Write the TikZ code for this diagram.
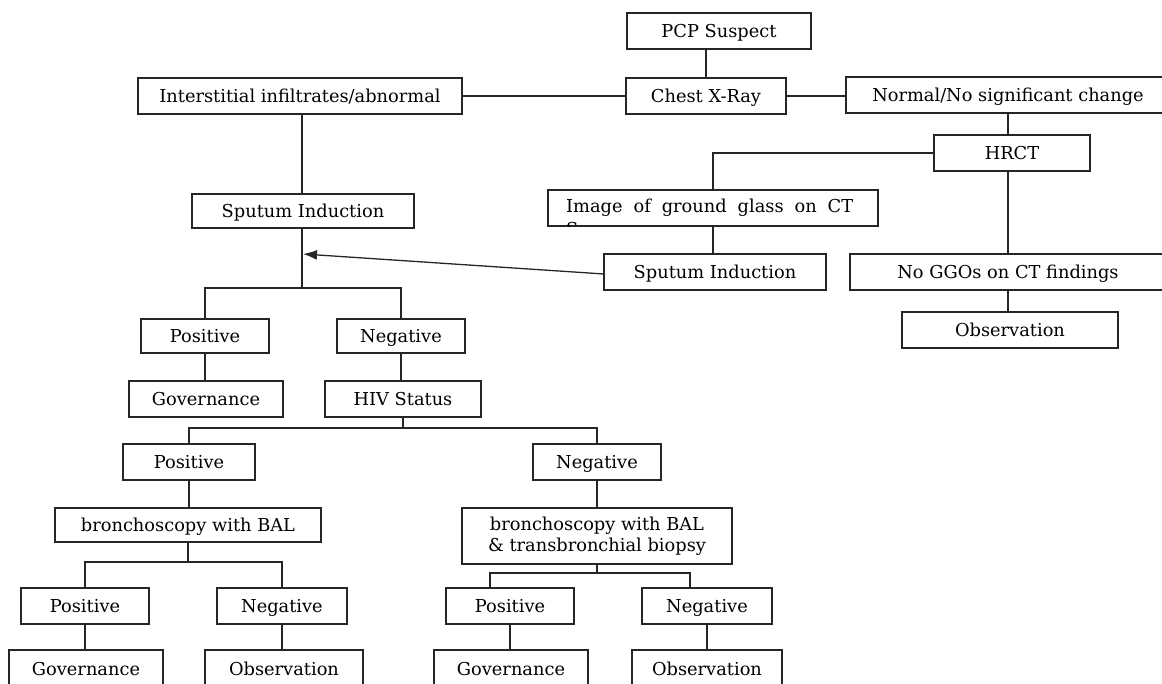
\documentclass[tikz,border=0pt]{standalone}
\usepackage{fontspec}
\setmainfont{DejaVu Serif}
\usetikzlibrary{arrows.meta}
\newcommand\mybox[6]{\node[bx,minimum width={#3-#2},minimum height={#5-#4}] (#1) at ({(#2+#3)/2},{(#4+#5)/2}) {#6};}
\begin{document}
\begin{tikzpicture}[x=1pt,y=-1pt,
  bxbase/.style={draw=black!85,line width=1.5pt,inner sep=0pt,outer sep=0pt,align=center,font=\fontsize{17.8}{21}\selectfont},
  bx/.style={bxbase,text height=14.5pt,text depth=1.5pt},
  bxtwo/.style={bxbase},
  ln/.style={draw=black!85,line width=1.5pt},
  arr/.style={draw=black!85,line width=1.3pt,-{Latex[length=14pt,width=10pt]}}]
\useasboundingbox (0,0) rectangle (1162,683);
% top
\mybox{pcp}{627}{811}{13}{49}{PCP Suspect}
\mybox{chest}{626}{786}{78}{114}{Chest X-Ray}
\mybox{inter}{138}{462}{78}{114}{Interstitial infiltrates/abnormal}
\mybox{normal}{846}{1170}{77}{113}{Normal/No significant change}
\mybox{hrct}{934}{1090}{135}{171}{HRCT}
\node[draw=black!85,line width=1.5pt,minimum width=330,minimum height=36,inner sep=0pt,outer sep=0pt] (image) at (713,208) {};
\begin{scope}
\clip (548,190) rectangle (878,226);
\node[anchor=base west,inner sep=0pt,font=\fontsize{17.8}{21}\selectfont] (imgtxt) at (566,212) {\makebox[287pt][s]{Image of ground glass on CT}};
\node[anchor=base west,inner sep=0pt,font=\fontsize{17.8}{21}\selectfont] (imgtxtb) at (566,235) {S};
\end{scope}
\mybox{sputr}{604}{826}{254}{290}{Sputum Induction}
\mybox{noggo}{850}{1166}{254}{290}{No GGOs on CT findings}
\mybox{obsr}{902}{1118}{312}{348}{Observation}
\mybox{sputl}{192}{414}{194}{228}{Sputum Induction}
% middle
\mybox{pos1}{141}{269}{319}{353}{Positive}
\mybox{neg1}{337}{465}{319}{353}{Negative}
\mybox{gov1}{129}{283}{381}{417}{Governance}
\mybox{hiv}{325}{481}{381}{417}{HIV Status}
\mybox{pos2}{123}{255}{444}{480}{Positive}
\mybox{neg2}{533}{661}{444}{480}{Negative}
\mybox{bal1}{55}{321}{508}{542}{bronchoscopy with BAL}
\node[bxtwo,minimum width=270,minimum height=56] (bal2) at (597,536) {bronchoscopy with BAL\\\& transbronchial biopsy};
% bottom
\mybox{pos3}{21}{149}{588}{624}{Positive}
\mybox{neg3}{217}{347}{588}{624}{Negative}
\mybox{pos4}{446}{574}{588}{624}{Positive}
\mybox{neg4}{642}{772}{588}{624}{Negative}
\mybox{gov3}{9}{163}{650}{688}{Governance}
\mybox{obs3}{205}{363}{650}{688}{Observation}
\mybox{gov4}{434}{588}{650}{688}{Governance}
\mybox{obs4}{632}{782}{650}{688}{Observation}
% coordinates
\coordinate (bl1) at (302,288);
\coordinate (arrtip) at (303,254);
\coordinate (bh) at (403,428);
\coordinate (bb1) at (188,562);
\coordinate (bb2) at (597,573);
% connectors
\draw[ln] (chest.north) -- (chest.north |- pcp.south);
\draw[ln] (inter.east) -- (inter.east -| chest.west);
\draw[ln] (chest.east) -- (chest.east -| normal.west);
\draw[ln] (1008,113) -- (1008,135);
\draw[ln] (hrct.west) -| (image.north);
\draw[ln] (image.south) -- (image.south |- sputr.north);
\draw[ln] (1008,171) -- (1008,254);
\draw[ln] (1008,290) -- (1008,312);
\draw[ln] (302,114) -- (302,194);
\draw[ln] (302,228) -- (bl1);
\draw[ln] (pos1.north) |- (bl1) -| (neg1.north);
\draw[arr] (604,274) -- (arrtip);
\draw[ln] (pos1.south) -- (pos1.south |- gov1.north);
\draw[ln] (neg1.south) -- (neg1.south |- hiv.north);
\draw[ln] (hiv.south) -- (bh);
\draw[ln] (pos2.north) |- (bh) -| (neg2.north);
\draw[ln] (pos2.south) -- (pos2.south |- bal1.north);
\draw[ln] (neg2.south) -- (bal2.north);
\draw[ln] (bal1.south) -- (bb1);
\draw[ln] (pos3.north) |- (bb1) -| (neg3.north);
\draw[ln] (bal2.south) -- (bb2);
\draw[ln] (490,588) |- (bb2) -| (690,588);
\draw[ln] (pos3.south) -- (pos3.south |- gov3.north);
\draw[ln] (neg3.south) -- (neg3.south |- obs3.north);
\draw[ln] (pos4.south) -- (pos4.south |- gov4.north);
\draw[ln] (neg4.south) -- (neg4.south |- obs4.north);
\end{tikzpicture}
\end{document}
